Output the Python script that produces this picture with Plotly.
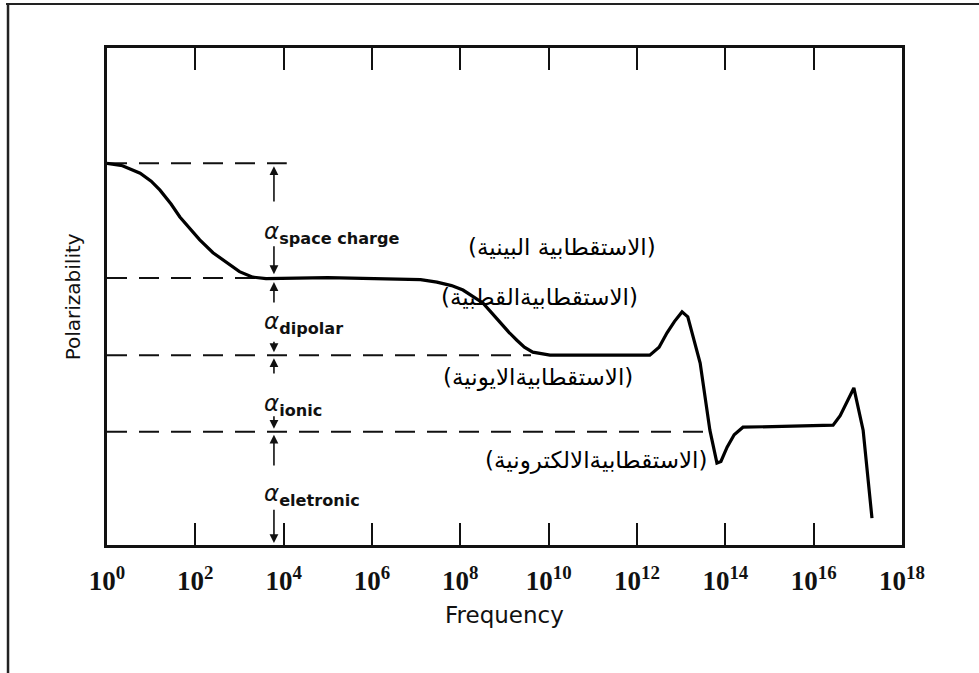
import plotly.graph_objects as go

# Frequency axis in decades (exponent of 10) and polarizability in arbitrary units
log_freq = [0.0, 0.35, 0.75, 1.0, 1.2, 1.45, 1.65, 1.9, 2.1, 2.4, 2.72, 3.0, 3.3, 3.6,
            5.0, 6.5, 7.1, 7.47, 7.8, 8.06, 8.3, 8.51, 8.7, 8.9, 9.1, 9.28, 9.45, 9.64,
            9.85, 10.03, 12.29, 12.5, 12.68, 12.85, 13.02, 13.15, 13.43, 13.65, 13.81,
            13.9, 14.04, 14.2, 14.4, 16.44, 16.6, 16.91, 17.12, 17.32]
polarizability = [7.68, 7.63, 7.48, 7.32, 7.14, 6.86, 6.6, 6.35, 6.14, 5.88, 5.67, 5.5, 5.39, 5.36,
                  5.38, 5.36, 5.34, 5.29, 5.22, 5.13, 5.0, 4.87, 4.68, 4.47, 4.28, 4.12, 3.98, 3.88,
                  3.84, 3.82, 3.82, 3.98, 4.27, 4.5, 4.69, 4.59, 3.66, 2.31, 1.65,
                  1.68, 1.97, 2.22, 2.37, 2.41, 2.6, 3.16, 2.31, 0.54]

# Contribution levels (dashed reference lines) and how far each dashed line runs
level_names = ["space charge", "dipolar", "ionic", "eletronic"]
level_values = [7.68, 5.37, 3.82, 2.28]
level_ends = [4.07, 3.5, 9.6, 13.55]

# Dimension arrows at the 10^4 decade: (tail, tip) pairs
arrow_x = 3.78
arrow_pairs = [(6.88, 7.62), (6.04, 5.45), (4.85, 5.29), (4.12, 3.88),
               (3.42, 3.76), (2.62, 2.34), (1.57, 2.22), (0.74, 0.04)]
alpha_label_y = [6.28, 4.47, 2.82, 1.0]

# Arabic labels for each polarization mechanism
arabic_labels = ["(الاستقطابية البينية)", "(الاستقطابيةالقطبية)",
                 "(الاستقطابيةالايونية)", "(الاستقطابيةالالكترونية)"]
arabic_x = [12.47, 12.07, 11.95, 13.65]
arabic_y = [6.0, 4.99, 3.38, 1.71]

tick_exponents = [0, 2, 4, 6, 8, 10, 12, 14, 16, 18]
tick_text = [f"10<sup>{e}</sup>" for e in tick_exponents]

fig = go.Figure()

for val, end in zip(level_values, level_ends):
    fig.add_trace(go.Scatter(x=[0, end], y=[val, val], mode="lines",
                             line=dict(color="#111", width=2, dash="20px,12px"),
                             hoverinfo="skip", showlegend=False))

fig.add_trace(go.Scatter(x=log_freq, y=polarizability, mode="lines",
                         line=dict(color="#000", width=3.2),
                         showlegend=False))

annotations = []
for tail, tip in arrow_pairs:
    annotations.append(dict(x=arrow_x, y=tip, ax=arrow_x, ay=tail, xref="x", yref="y",
                            axref="x", ayref="y", text="", showarrow=True,
                            arrowhead=2, arrowsize=1.1, arrowwidth=1.6,
                            arrowcolor="#111", standoff=0, startstandoff=0))

for name, ly in zip(level_names, alpha_label_y):
    annotations.append(dict(x=arrow_x, y=ly, xref="x", yref="y", xanchor="left",
                            yanchor="middle", xshift=-12, showarrow=False,
                            text=f"<i>α</i><sub><b>{name}</b></sub>",
                            font=dict(family="DejaVu Sans", size=23, color="#111")))

for txt, ax_, ay_ in zip(arabic_labels, arabic_x, arabic_y):
    annotations.append(dict(x=ax_, y=ay_, xref="x", yref="y", xanchor="right",
                            yanchor="middle", showarrow=False, text=txt,
                            font=dict(family="DejaVu Sans", size=23, color="#000")))

annotations.append(dict(x=0.5, y=-0.14, xref="paper", yref="paper", showarrow=False,
                        text="Frequency", yanchor="middle",
                        font=dict(family="DejaVu Sans", size=23, color="#111")))
annotations.append(dict(x=-0.043, y=0.5, xref="paper", yref="paper", showarrow=False,
                        text="Polarizability", textangle=-90, xanchor="center",
                        font=dict(family="DejaVu Sans", size=20, color="#111")))

shapes = [
    # page frame: top and left edges
    dict(type="line", xref="paper", yref="paper", x0=-0.127, x1=1.1, y0=1.0885, y1=1.0885,
         line=dict(color="#222", width=2)),
    dict(type="line", xref="paper", yref="paper", x0=-0.1245, x1=-0.1245, y0=1.0885, y1=-0.26,
         line=dict(color="#222", width=2.5)),
]

fig.update_layout(
    width=979, height=673,
    margin=dict(l=107, r=77, t=48, b=128),
    paper_bgcolor="white", plot_bgcolor="white",
    annotations=annotations, shapes=shapes,
    xaxis=dict(range=[0, 18], tickmode="array", tickvals=tick_exponents, ticktext=tick_text,
               ticks="inside", ticklen=22, tickwidth=2, tickcolor="#111",
               showline=True, linewidth=3, linecolor="#111", mirror="ticks",
               showgrid=False, zeroline=False, ticklabelstandoff=10,
               tickfont=dict(family="Liberation Serif", size=27, color="#111", weight="bold")),
    yaxis=dict(range=[0, 10], showticklabels=False, ticks="", showline=True,
               linewidth=3, linecolor="#111", mirror=True, showgrid=False, zeroline=False),
)

fig.write_html("out.html")
